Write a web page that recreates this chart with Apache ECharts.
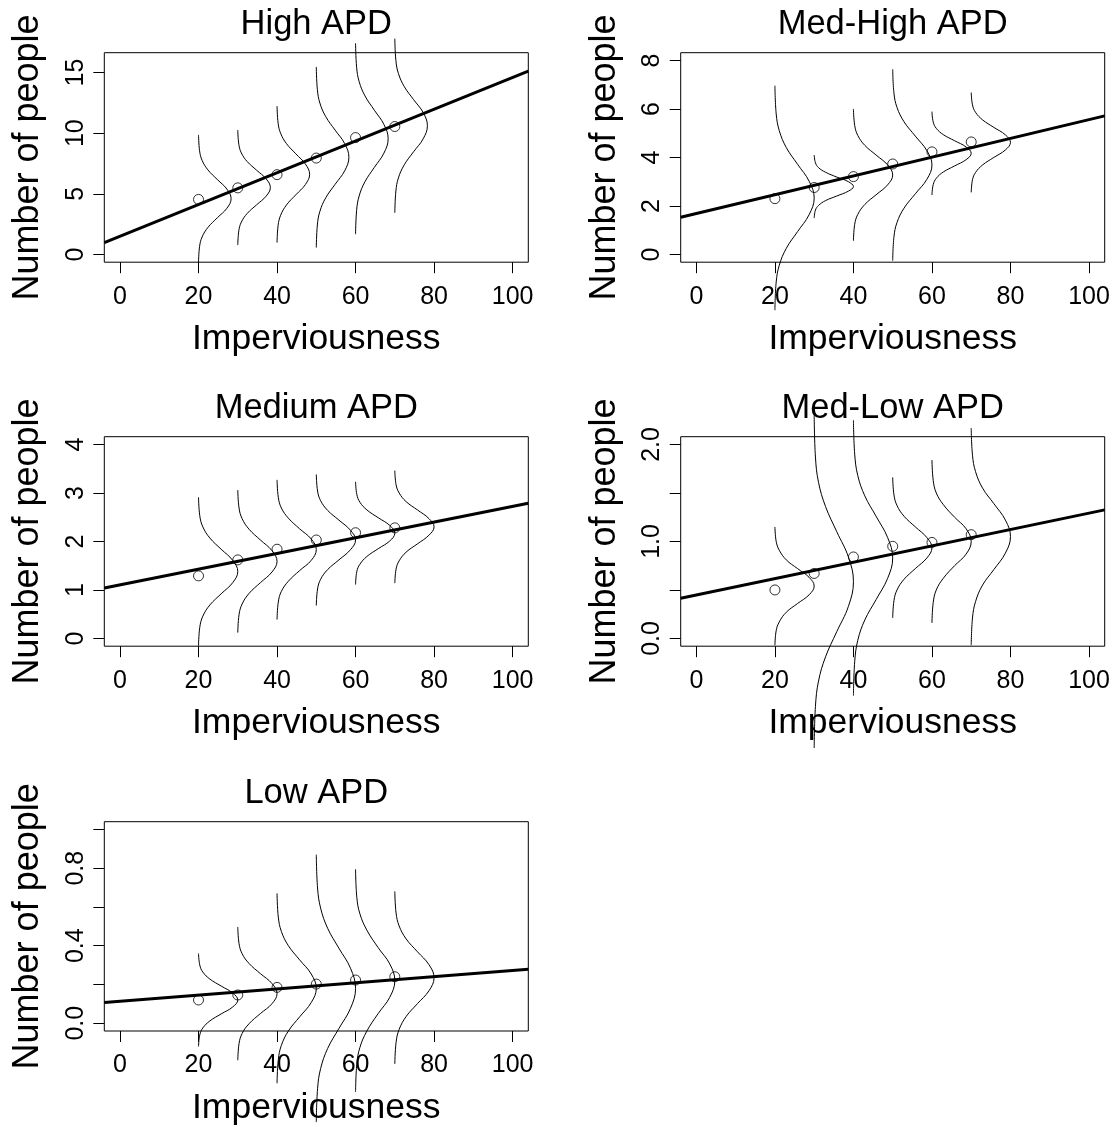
<!DOCTYPE html>
<html>
<head>
<meta charset="utf-8">
<script src="https://cdn.jsdelivr.net/npm/echarts@6/dist/echarts.min.js"></script>
<style>
html,body{margin:0;padding:0;background:#fff;}
#chart{width:1119px;height:1127px;}
</style>
</head>
<body>
<div id="chart"></div>
<script>
// ---------------- data ----------------
const panelTitles = ['High APD', 'Med-High APD', 'Medium APD', 'Med-Low APD', 'Low APD'];
const xName = 'Imperviousness';
const yName = 'Number of people';
const xVals = [20, 30, 40, 50, 60, 70];
const xTicks = [0, 20, 40, 60, 80, 100];

// open circles (observed means)
const highPts    = [4.54, 5.49, 6.58, 7.95, 9.64, 10.55];
const medHighPts = [2.30, 2.76, 3.21, 3.73, 4.23, 4.64];
const mediumPts  = [1.29, 1.62, 1.84, 2.03, 2.18, 2.28];
const medLowPts  = [0.50, 0.67, 0.84, 0.95, 0.99, 1.07];
const lowPts     = [0.12, 0.146, 0.185, 0.202, 0.223, 0.24];

// fitted regression line: [intercept, slope]
const highFit    = [1.49, 0.131];
const medHighFit = [1.69, 0.0387];
const mediumFit  = [1.103, 0.0162];
const medLowFit  = [0.449, 0.00843];
const lowFit     = [0.114, 0.001585];

// y-axis ticks and labelled ticks
const highYTicks = [0, 5, 10, 15];           const highYLabels = [0, 5, 10, 15];
const medHighYTicks = [0, 2, 4, 6, 8];       const medHighYLabels = [0, 2, 4, 6, 8];
const mediumYTicks = [0, 1, 2, 3, 4];        const mediumYLabels = [0, 1, 2, 3, 4];
const medLowYTicks = [0, 0.5, 1, 1.5, 2];    const medLowYLabels = [0, 1, 2];
const lowYTicks = [0, 0.2, 0.4, 0.6, 0.8, 1];const lowYLabels = [0, 0.4, 0.8];

// sideways density curves: horizontal width (x units right of the base) at each traced level
const highCurveW  = [0, 0.27, 0.91, 2.40, 4.78, 7.23, 8.3, 7.23, 4.78, 2.40, 0.91, 0.27, 0];
const otherCurveW = [0, 0.32, 1.10, 2.89, 5.76, 8.71, 10, 8.71, 5.76, 2.89, 1.10, 0.32, 0];

// traced y level of each curve point (one row per curve at x = 20..70)
const highCurveY = [
  [9.86, 8.55, 7.76, 6.97, 6.18, 5.39, 4.60, 3.81, 3.02, 2.23, 1.44, 0.66, -0.66],
  [10.27, 9.08, 8.37, 7.66, 6.95, 6.23, 5.52, 4.81, 4.09, 3.38, 2.67, 1.96, 0.77],
  [12.24, 10.83, 9.99, 9.14, 8.30, 7.45, 6.61, 5.77, 4.92, 4.08, 3.23, 2.39, 0.98],
  [15.47, 13.61, 12.49, 11.37, 10.26, 9.14, 8.02, 6.90, 5.78, 4.67, 3.55, 2.43, 0.57],
  [17.41, 15.44, 14.26, 13.08, 11.90, 10.72, 9.54, 8.36, 7.18, 6.00, 4.82, 3.64, 1.67],
  [17.80, 16.01, 14.93, 13.85, 12.77, 11.70, 10.62, 9.54, 8.47, 7.39, 6.31, 5.23, 3.44]
];
const medHighCurveY = [
  [6.96, 5.80, 5.11, 4.41, 3.72, 3.02, 2.33, 1.64, 0.94, 0.25, -0.45, -1.14, -2.30],
  [4.10, 3.78, 3.58, 3.39, 3.19, 3.00, 2.80, 2.61, 2.41, 2.22, 2.02, 1.83, 1.50],
  [6.00, 5.32, 4.91, 4.50, 4.10, 3.69, 3.28, 2.87, 2.46, 2.06, 1.65, 1.24, 0.56],
  [7.64, 6.65, 6.06, 5.47, 4.88, 4.28, 3.69, 3.10, 2.50, 1.91, 1.32, 0.73, -0.26],
  [5.89, 5.46, 5.20, 4.94, 4.69, 4.43, 4.17, 3.91, 3.65, 3.40, 3.14, 2.88, 2.45],
  [6.68, 6.17, 5.86, 5.55, 5.24, 4.93, 4.62, 4.31, 4.00, 3.69, 3.38, 3.08, 2.56]
];
const mediumCurveY = [
  [2.91, 2.53, 2.30, 2.07, 1.84, 1.61, 1.38, 1.15, 0.92, 0.69, 0.46, 0.23, -0.15],
  [3.06, 2.69, 2.47, 2.25, 2.03, 1.81, 1.59, 1.37, 1.15, 0.93, 0.71, 0.49, 0.12],
  [3.27, 2.91, 2.69, 2.48, 2.26, 2.05, 1.83, 1.61, 1.40, 1.18, 0.97, 0.75, 0.39],
  [3.38, 3.04, 2.84, 2.64, 2.44, 2.23, 2.03, 1.83, 1.62, 1.42, 1.22, 1.02, 0.68],
  [3.23, 2.97, 2.81, 2.65, 2.49, 2.33, 2.17, 2.01, 1.85, 1.69, 1.53, 1.38, 1.11],
  [3.46, 3.17, 3.00, 2.82, 2.65, 2.47, 2.30, 2.13, 1.95, 1.78, 1.60, 1.43, 1.14]
];
const medLowCurveY = [
  [1.15, 1.00, 0.91, 0.81, 0.72, 0.63, 0.54, 0.45, 0.36, 0.27, 0.17, 0.08, -0.07],
  [2.30, 1.87, 1.61, 1.36, 1.10, 0.84, 0.585, 0.33, 0.07, -0.19, -0.44, -0.70, -1.13],
  [2.25, 1.90, 1.68, 1.47, 1.26, 1.04, 0.83, 0.62, 0.40, 0.19, -0.02, -0.24, -0.59],
  [1.66, 1.48, 1.37, 1.26, 1.15, 1.04, 0.935, 0.83, 0.72, 0.61, 0.50, 0.39, 0.21],
  [1.84, 1.63, 1.50, 1.38, 1.25, 1.13, 1.00, 0.87, 0.75, 0.62, 0.50, 0.37, 0.16],
  [2.17, 1.89, 1.72, 1.55, 1.39, 1.22, 1.05, 0.88, 0.71, 0.55, 0.38, 0.21, -0.07]
];
const lowCurveY = [
  [0.36, 0.30, 0.264, 0.228, 0.192, 0.156, 0.12, 0.084, 0.048, 0.012, -0.024, -0.06, -0.12],
  [0.497, 0.411, 0.359, 0.308, 0.256, 0.205, 0.153, 0.101, 0.05, -0.002, -0.053, -0.105, -0.191],
  [0.67, 0.548, 0.474, 0.40, 0.327, 0.254, 0.18, 0.107, 0.033, -0.04, -0.114, -0.188, -0.31],
  [0.87, 0.698, 0.594, 0.49, 0.387, 0.284, 0.18, 0.077, -0.027, -0.13, -0.234, -0.338, -0.51],
  [0.795, 0.65, 0.565, 0.48, 0.39, 0.306, 0.22, 0.134, 0.05, -0.04, -0.125, -0.21, -0.355],
  [0.68, 0.569, 0.502, 0.435, 0.369, 0.302, 0.235, 0.168, 0.101, 0.035, -0.032, -0.099, -0.21]
];

// ---------------- layout / style ----------------
const FONT = '"Liberation Sans", Arial, Helvetica, sans-serif';
const X_MIN = -4, X_MAX = 104;
const COL_LEFT = [104.3, 680.7];
const ROW_TOP = [52.7, 436.7, 821.7];
const GRID_W = 424, GRID_H = 209.5;

const panels = [
  {pts: highPts, fit: highFit, curves: highCurveY, w: highCurveW, yMin: -0.64, yMax: 16.64, ticks: highYTicks, labels: highYLabels, dec: 0},
  {pts: medHighPts, fit: medHighFit, curves: medHighCurveY, w: otherCurveW, yMin: -0.32, yMax: 8.32, ticks: medHighYTicks, labels: medHighYLabels, dec: 0},
  {pts: mediumPts, fit: mediumFit, curves: mediumCurveY, w: otherCurveW, yMin: -0.16, yMax: 4.16, ticks: mediumYTicks, labels: mediumYLabels, dec: 0},
  {pts: medLowPts, fit: medLowFit, curves: medLowCurveY, w: otherCurveW, yMin: -0.08, yMax: 2.08, ticks: medLowYTicks, labels: medLowYLabels, dec: 1},
  {pts: lowPts, fit: lowFit, curves: lowCurveY, w: otherCurveW, yMin: -0.04, yMax: 1.04, ticks: lowYTicks, labels: lowYLabels, dec: 1}
];

const grids = [], xAxes = [], yAxes = [], titles = [], series = [];
panels.forEach((p, i) => {
  const left = COL_LEFT[i % 2], top = ROW_TOP[Math.floor(i / 2)];
  grids.push({left: left, top: top, width: GRID_W, height: GRID_H, show: true,
    borderColor: '#000', borderWidth: 1, backgroundColor: 'transparent'});
  titles.push({text: panelTitles[i], left: left + GRID_W / 2, top: top - 46, textAlign: 'center', padding: 0,
    textStyle: {fontSize: 34.5, fontWeight: 'normal', color: '#000', fontFamily: FONT}});
  xAxes.push({gridIndex: i, type: 'value', min: X_MIN, max: X_MAX,
    axisLine: {show: false, onZero: false},
    axisTick: {show: true, inside: false, length: 11, customValues: xTicks, lineStyle: {color: '#000', width: 1}},
    axisLabel: {customValues: xTicks, fontSize: 25, color: '#000', fontFamily: FONT, margin: 22},
    splitLine: {show: false},
    name: xName, nameLocation: 'middle', nameGap: 59,
    nameTextStyle: {fontSize: 35.5, color: '#000', fontFamily: FONT}});
  yAxes.push({gridIndex: i, type: 'value', min: p.yMin, max: p.yMax,
    axisLine: {show: false, onZero: false},
    axisTick: {show: true, inside: false, length: 11, customValues: p.ticks, lineStyle: {color: '#000', width: 1}},
    axisLabel: {customValues: p.labels, rotate: 90, fontSize: 25, color: '#000', fontFamily: FONT, margin: 16,
      formatter: v => Number(v).toFixed(p.dec)},
    splitLine: {show: false},
    name: yName, nameLocation: 'middle', nameGap: 58,
    nameTextStyle: {fontSize: 36, color: '#000', fontFamily: FONT}});

  // density curves
  p.curves.forEach((ys, k) => {
    series.push({type: 'line', xAxisIndex: i, yAxisIndex: i, clip: false, silent: true,
      smooth: 0.4, showSymbol: false, symbol: 'none',
      lineStyle: {color: '#000', width: 1},
      data: ys.map((y, j) => [xVals[k] + p.w[j], y]), z: 2});
  });
  // regression line
  series.push({type: 'line', xAxisIndex: i, yAxisIndex: i, silent: true, showSymbol: false, symbol: 'none',
    lineStyle: {color: '#000', width: 3},
    data: [[X_MIN, p.fit[0] + p.fit[1] * X_MIN], [X_MAX, p.fit[0] + p.fit[1] * X_MAX]], z: 3});
  // observed points
  series.push({type: 'scatter', xAxisIndex: i, yAxisIndex: i, silent: true, symbol: 'circle', symbolSize: 10,
    itemStyle: {color: 'rgba(0,0,0,0)', borderColor: '#000', borderWidth: 1},
    data: xVals.map((x, k) => [x, p.pts[k]]), z: 4});
});

const chart = echarts.init(document.getElementById('chart'), null, {renderer: 'canvas'});
chart.setOption({
  animation: false,
  backgroundColor: '#fff',
  title: titles, grid: grids, xAxis: xAxes, yAxis: yAxes, series: series
});
</script>
</body>
</html>
